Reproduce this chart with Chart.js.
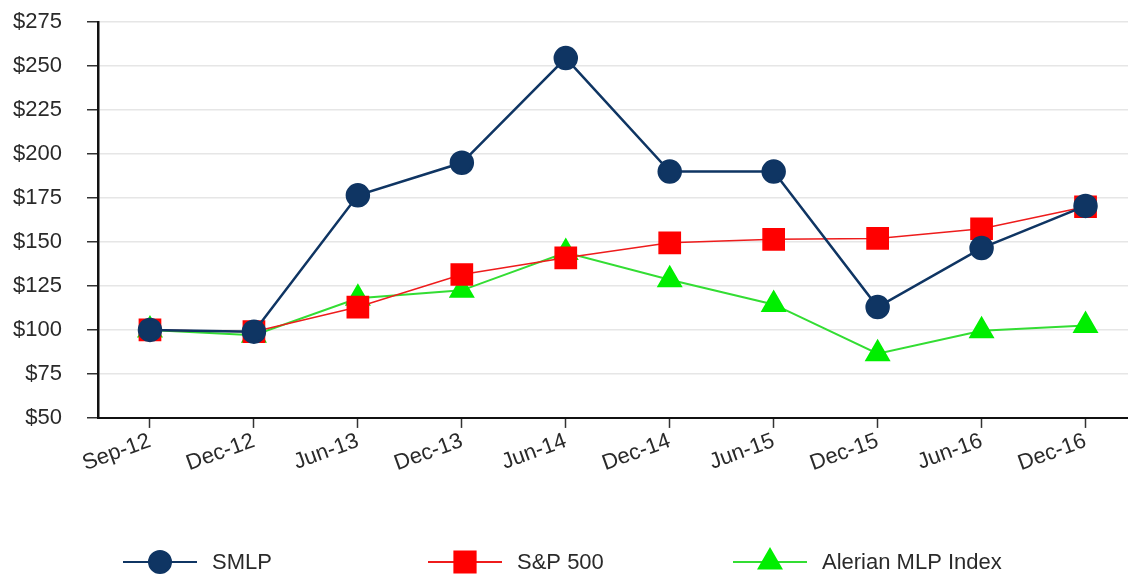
<!DOCTYPE html>
<html>
<head>
<meta charset="utf-8">
<script src="https://cdn.jsdelivr.net/npm/chart.js@4.4.0/dist/chart.umd.min.js"></script>
<style>
  html, body { margin: 0; padding: 0; background: #fff; overflow: hidden; }
  #wrap { width: 1154px; height: 576px; }
</style>
</head>
<body>
<div id="wrap"><canvas id="chart"></canvas></div>
<script>
const periods = ["Sep-12", "Dec-12", "Jun-13", "Dec-13", "Jun-14", "Dec-14", "Jun-15", "Dec-15", "Jun-16", "Dec-16"];
const smlp = [100, 99, 176.5, 195, 254.5, 190, 190, 113, 146.5, 170.5];
const sp500 = [100, 99, 113, 131.5, 141, 149.5, 151.5, 152, 157.5, 170];
const alerian = [100, 97, 118, 122.5, 144, 128.5, 114.5, 86.5, 99.5, 102.5];
const yTicks = [50, 75, 100, 125, 150, 175, 200, 225, 250, 275];

const FONT = "'Liberation Sans', Arial, sans-serif";

// legend drawn by hand so the line runs through the marker, like the original
const legendLine = {
  id: "legend_line",
  afterDraw: (chart) => {
    const ctx = chart.ctx;
    const xs = [160, 465, 770];
    const y = 562;
    chart.data.datasets.forEach((ds, i) => {
      const cx = xs[i];
      ctx.save();
      ctx.strokeStyle = ds.borderColor;
      ctx.lineWidth = 2;
      ctx.beginPath();
      ctx.moveTo(cx - 37, y);
      ctx.lineTo(cx + 37, y);
      ctx.stroke();
      ctx.fillStyle = ds.pointBackgroundColor;
      ctx.strokeStyle = ds.pointBackgroundColor;
      Chart.helpers.drawPoint(ctx, { pointStyle: ds.pointStyle, radius: ds.pointRadius, borderWidth: 1 }, cx, y);
      ctx.fillStyle = "#2a2a2a";
      ctx.font = "22px " + FONT;
      ctx.textBaseline = "middle";
      ctx.fillText(ds.label, cx + 52, y + 1);
      ctx.restore();
    });
  },
};

new Chart(document.getElementById("chart"), {
  type: "line",
  plugins: [legendLine],
  data: {
    labels: periods,
    datasets: [
      {
        label: "SMLP",
        data: smlp,
        borderColor: "#0f3563",
        pointBackgroundColor: "#0f3563",
        pointBorderColor: "#0f3563",
        pointStyle: "circle",
        pointRadius: 11,
        borderWidth: 2.5,
        order: 1,
      },
      {
        label: "S&P 500",
        data: sp500,
        borderColor: "#ee1c1c",
        pointBackgroundColor: "#ff0000",
        pointBorderColor: "#ff0000",
        pointStyle: "rect",
        pointRadius: 15,
        borderWidth: 1.5,
        order: 2,
      },
      {
        label: "Alerian MLP Index",
        data: alerian,
        borderColor: "#33dd33",
        pointBackgroundColor: "#00ee00",
        pointBorderColor: "#00ee00",
        pointStyle: "triangle",
        pointRadius: 13,
        borderWidth: 2,
        order: 3,
      },
    ],
  },
  options: {
    responsive: true,
    maintainAspectRatio: false,
    animation: false,
    layout: { padding: { top: 22, bottom: 99, left: 0, right: 0 } },
    plugins: {
      legend: { display: false },
      tooltip: { enabled: false },
    },
    elements: { line: { tension: 0 } },
    scales: {
      x: {
        offset: true,
        afterFit: (axis) => {
          // rotated first label must not push the plot area to the right
          axis.paddingLeft = 0;
          axis.paddingRight = 0;
        },
        border: { color: "#111", width: 2 },
        grid: {
          drawOnChartArea: false,
          drawTicks: true,
          tickLength: 10,
          tickColor: "#333",
          tickWidth: 1.5,
          offset: false,
        },
        ticks: {
          color: "#2a2a2a",
          font: { family: FONT, size: 22 },
          minRotation: 20,
          maxRotation: 20,
          padding: 0,
        },
      },
      y: {
        min: 50,
        max: 275,
        afterBuildTicks: (axis) => {
          axis.ticks = yTicks.map((v) => ({ value: v }));
        },
        afterFit: (axis) => {
          axis.width = 98;
          axis.paddingTop = 0;
          axis.paddingBottom = 0;
        },
        border: { color: "#111", width: 2.5 },
        grid: {
          color: "#e6e6e6",
          lineWidth: 1.5,
          drawTicks: true,
          tickLength: 11,
          tickColor: "#333",
        },
        ticks: {
          color: "#2a2a2a",
          font: { family: FONT, size: 22 },
          padding: 25,
          callback: (v) => "$" + v,
        },
      },
    },
  },
});
</script>
</body>
</html>
